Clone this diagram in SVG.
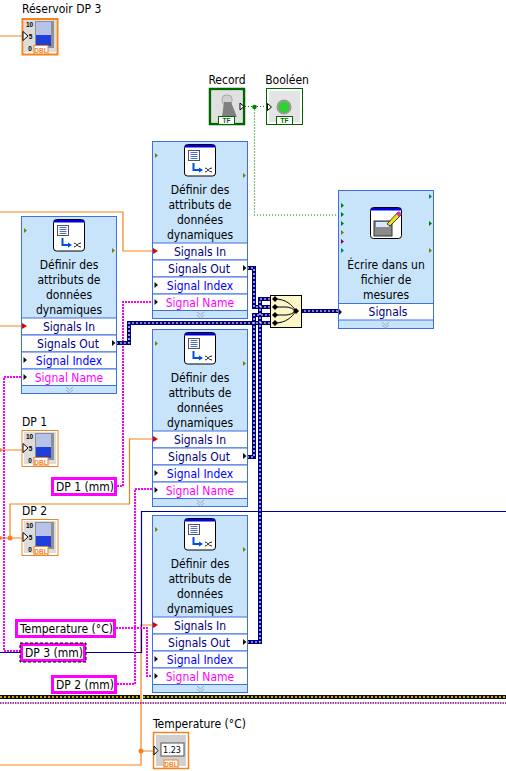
<svg xmlns="http://www.w3.org/2000/svg" width="506" height="771" viewBox="0 0 506 771">
<style>
text{font-family:"DejaVu Sans Condensed","DejaVu Sans","Liberation Sans",sans-serif;font-size:12px;fill:#000;text-anchor:middle}
.lab{text-anchor:start}
.in{fill:#000080}.out{fill:#000080}.idx{fill:#0000ff}.nam{fill:#ff00ff}
.w{fill:none}
.or{stroke:#f5821f;stroke-width:1.2}
.mg{stroke:#ff00ff;stroke-width:2;stroke-dasharray:2 1}
.bl{stroke:#0000a0;stroke-width:1.2}
.dy1{stroke:#000080;stroke-width:4}
.dy2{stroke:#fff;stroke-width:1.2;stroke-dasharray:2 2}
.gr{stroke:#008000;stroke-width:1.2;stroke-dasharray:1 2}
.lbox{fill:#fff;stroke:#ff00ff;stroke-width:3}
.tiny{font-size:6.5px;font-weight:bold;font-family:"Liberation Sans",sans-serif}
</style>
<defs>
<g id="ic">
<rect x="0.5" y="0.5" width="31" height="31.500" rx="3" fill="#fff" stroke="#000"/>
<rect x="1" y="1" width="30" height="2.500" fill="#0000e0"/>
<rect x="4.500" y="6.500" width="11" height="10" fill="#fff" stroke="#555"/>
<path d="M6.500 8.500h7M6.500 10.500h7M6.500 12.500h7M6.500 14.500h7" stroke="#4a6fd0"/>
<path d="M9.500 19v7h8" fill="none" stroke="#0050e0" stroke-width="2"/>
<path d="M15 23.500l4 2.500-4 2.500z" fill="#0050e0"/>
<path d="M21 24c3 0 3 4 7 4M21 28c3 0 3-4 7-4" fill="none" stroke="#222"/>
</g>
<g id="dyn">
<rect x="0.5" y="0.5" width="95" height="177" fill="#c8e4fb" stroke="#3d6fe8"/>
<g fill="#fff" stroke="#3d6fe8"><rect x="0.5" y="102" width="95" height="17"/><rect x="0.5" y="119" width="95" height="17"/><rect x="0.5" y="136" width="95" height="17"/><rect x="0.5" y="153" width="95" height="16.500"/></g>
<path d="M45 171l3.500 3 3.500-3M45 174l3.500 3 3.500-3" fill="none" stroke="#9aa8bb"/>
<use href="#ic" x="32" y="3"/>
<path d="M3 12v5l3-2.500z" fill="#808000"/><path d="M91 32v5l3-2.500z" fill="#808000"/>
<path d="M1 107v6l5-3z" fill="#e00000"/>
<path d="M91 124v6l3.500-3z" fill="#111"/>
<path d="M2.500 141v6l3.500-3z" fill="#111"/>
<path d="M2.500 158v6l3.500-3z" fill="#111"/>
</g>
<g id="tank">
<rect x="2" y="2" width="32" height="32" fill="#dcdcdc"/>
<rect x="13" y="3" width="19" height="27" fill="#8f8f8f"/>
<rect x="14" y="4" width="15" height="13" fill="#b6c2e8"/>
<rect x="14" y="17" width="15" height="11" fill="#1f3fdc"/>
<text x="7.500" y="9" class="tiny">10</text><text x="8.500" y="21" class="tiny">5</text><text x="8" y="33" class="tiny">0</text>
<path d="M1 13.500v9l5-4.500z" fill="#fff" stroke="#000"/>
<rect x="12" y="27.500" width="14" height="8.500" fill="#fff" stroke="#f5821f"/>
<text x="19" y="34.500" class="tiny" style="fill:#f5821f">DBL</text>
</g>
<g id="tf">
<rect x="9.500" y="28.500" width="16" height="8" fill="#fff" stroke="#006400"/>
<text x="17.500" y="35" class="tiny" style="fill:#006400">TF</text>
</g>
</defs>
<rect width="506" height="771" fill="#fff"/>

<g id="connectors">
<path class="w or" d="M0 36H22M0 212H123V251H153M0 326H21M0 450H22M0 538H22M10 538V504H129.500V439H153M0 765H141V625H153M141 751H153"/>
<circle cx="10" cy="538" r="2.500" fill="#f5821f"/><circle cx="0" cy="450" r="2" fill="#f5821f"/><circle cx="141" cy="751" r="2.500" fill="#f5821f"/><circle cx="0" cy="538" r="2" fill="#f5821f"/>
<path class="w bl" d="M0 652.500H20M86 652.500H141.500V511M141.500 511.500H506"/>
<path class="w mg" d="M21 377H4V651H20M117 486H123V302H153M117 684H135V489H153M116 628H147V676H153"/>
<path class="w gr" d="M245 106.500H266M254.500 106.500V215H338"/>
<circle cx="254.500" cy="107" r="2.300" fill="#008000"/>
<g class="w dy1"><path d="M116 343H129V323H270"/><path d="M247 268H254V307H270"/><path d="M247 457H254V315H270"/><path d="M247 642H260V299H270"/><path d="M296 311H338"/></g>
<g class="w dy2"><path d="M116 343H129V323H270"/><path d="M247 268H254V307H270"/><path d="M247 457H254V315H270"/><path d="M247 642H260V299H270"/><path d="M296 311H338"/></g>
<path d="M0 697H140M143 697H506" fill="none" stroke="#111" stroke-width="4"/>
<path d="M0 697H140M143 697H506" fill="none" stroke="#f0e000" stroke-width="1.500" stroke-dasharray="2 2"/>
<path d="M0 703H506" fill="none" stroke="#800080" stroke-width="1.500" stroke-dasharray="1.500 1"/>
</g>

<g id="reservoir"><text class="lab" x="22" y="13">Réservoir DP 3</text><rect x="22.500" y="19" width="35" height="35.500" fill="#fff" stroke="#f5821f" stroke-width="2"/><use href="#tank" x="22" y="18"/></g>

<g id="record"><text x="227" y="84">Record</text><rect x="210" y="89" width="34" height="35" fill="#fff" stroke="#006400" stroke-width="2.500"/><rect x="212" y="91" width="30" height="31" fill="#e0e0e0"/><rect x="222" y="95" width="10" height="10" rx="4" fill="#d0d0d0" stroke="#aaa"/><path d="M224 102h7l6 15h-15z" fill="#808080"/><path d="M240 103v7l4-3.500z" fill="#fff" stroke="#000"/><use href="#tf" x="209" y="88"/></g>
<g id="booleen"><text x="287" y="84">Booléen</text><rect x="266.500" y="88.500" width="36" height="36" fill="#fff" stroke="#006400"/><rect x="269" y="91" width="31" height="31" fill="#e4e4e4"/><circle cx="284" cy="107" r="6.500" fill="#2fd02f" stroke="#999" stroke-width="2"/><path d="M267.500 103.500v7l4-3.500z" fill="#fff" stroke="#000"/><use href="#tf" x="267" y="88"/></g>

<g id="nodeB" transform="translate(152 141)"><use href="#dyn"/><text x="48" y="53">Définir des</text><text x="48" y="68">attributs de</text><text x="48" y="83">données</text><text x="48" y="98">dynamiques</text><text class="in" x="48" y="115">Signals In</text><text class="out" x="47" y="132">Signals Out</text><text class="idx" x="48" y="149">Signal Index</text><text class="nam" x="48" y="166">Signal Name</text></g>

<g id="nodeA" transform="translate(21 216)"><use href="#dyn"/><text x="48" y="53">Définir des</text><text x="48" y="68">attributs de</text><text x="48" y="83">données</text><text x="48" y="98">dynamiques</text><text class="in" x="48" y="115">Signals In</text><text class="out" x="47" y="132">Signals Out</text><text class="idx" x="48" y="149">Signal Index</text><text class="nam" x="48" y="166">Signal Name</text></g>

<g id="nodeC" transform="translate(152 329)"><use href="#dyn"/><text x="48" y="53">Définir des</text><text x="48" y="68">attributs de</text><text x="48" y="83">données</text><text x="48" y="98">dynamiques</text><text class="in" x="48" y="115">Signals In</text><text class="out" x="47" y="132">Signals Out</text><text class="idx" x="48" y="149">Signal Index</text><text class="nam" x="48" y="166">Signal Name</text></g>

<g id="nodeD" transform="translate(152 515)"><use href="#dyn"/><text x="48" y="53">Définir des</text><text x="48" y="68">attributs de</text><text x="48" y="83">données</text><text x="48" y="98">dynamiques</text><text class="in" x="48" y="115">Signals In</text><text class="out" x="47" y="132">Signals Out</text><text class="idx" x="48" y="149">Signal Index</text><text class="nam" x="48" y="166">Signal Name</text></g>

<g id="merge"><rect x="270.500" y="295.500" width="31" height="32" fill="#fdf6c8" stroke="#000"/><g fill="none" stroke="#000"><path d="M275 299C286 299 292 305 296 311M275 307H286C290 307 293 309 296 311M275 315H286C290 315 293 313 296 311M275 323C286 323 292 317 296 311"/></g><g fill="#000"><path d="M275 296l3 3-3 3-3-3z"/><path d="M275 304l3 3-3 3-3-3z"/><path d="M275 312l3 3-3 3-3-3z"/><path d="M275 320l3 3-3 3-3-3z"/><path d="M296 308l3 3-3 3-3-3z"/></g></g>

<g id="nodeE"><rect x="338.500" y="190.500" width="95" height="138" fill="#c8e4fb" stroke="#3d6fe8"/><rect x="338.500" y="303.500" width="95" height="16.500" fill="#fff" stroke="#3d6fe8"/><path d="M382 322l3.500 3 3.500-3M382 325l3.500 3 3.500-3" fill="none" stroke="#9aa8bb"/>
<rect x="370.500" y="207.500" width="31" height="31" rx="3" fill="#fff" stroke="#000"/><rect x="371" y="208" width="30" height="2.500" fill="#0000e0"/><rect x="374" y="221" width="18" height="15" fill="#8a8a8a" stroke="#333"/><rect x="376" y="222" width="13" height="5" fill="#d8e8ff"/><path d="M387 224l11-12 3 3-11 11z" fill="#f0e020" stroke="#000" stroke-width=".7"/><path d="M396 214l3-3 3 3-3 3z" fill="#d040a0"/>
<path d="M341 203v5l3-2.500z" fill="#008000"/><path d="M341 212v5l3-2.500z" fill="#008000"/><path d="M341 221v5l3-2.500z" fill="#008000"/><path d="M341 230v5l3-2.500z" fill="#808000"/><path d="M341 239v5l3-2.500z" fill="#800080"/><path d="M341 248v5l3-2.500z" fill="#008080"/>
<path d="M429 194v5l3-2.500z" fill="#008080"/><path d="M429 221v5l3-2.500z" fill="#008000"/><path d="M429 248v5l3-2.500z" fill="#808000"/>
<path d="M339 309v6l3-3z" fill="#111"/>
<text x="386" y="269">Écrire dans un</text><text x="386" y="284">fichier de</text><text x="386" y="299">mesures</text><text class="out" x="388" y="316">Signals</text></g>

<g id="dp1"><text class="lab" x="22" y="426">DP 1</text><rect x="22" y="430.500" width="36" height="36" fill="#fff" stroke="#f5821f"/><use href="#tank" x="22" y="430"/></g>
<g id="dp2"><text class="lab" x="22" y="515">DP 2</text><rect x="22" y="519.500" width="36" height="36" fill="#fff" stroke="#f5821f"/><use href="#tank" x="22" y="519"/></g>

<g id="labelDp1"><rect class="lbox" x="52.500" y="478.500" width="63" height="16"/><text class="lab" x="56" y="491">DP 1 (mm)</text></g>
<g id="labelTemp"><rect class="lbox" x="16.500" y="620.500" width="98" height="16"/><text class="lab" x="20" y="633">Temperature (°C)</text></g>
<g id="labelDp3"><rect class="lbox" x="21.500" y="644.500" width="63" height="16"/><rect x="20" y="643" width="66" height="19" fill="none" stroke="#000" stroke-dasharray="3 2"/><text class="lab" x="25" y="657">DP 3 (mm)</text></g>
<g id="labelDp2"><rect class="lbox" x="52.500" y="676.500" width="63" height="16"/><text class="lab" x="56" y="689">DP 2 (mm)</text></g>

<g id="tempIndicator"><text class="lab" x="153" y="728">Temperature (°C)</text><rect x="153.500" y="732.500" width="35" height="36" fill="#fff" stroke="#f5821f" stroke-width="1.500"/><rect x="156" y="735" width="30" height="31" fill="#d0d0d0"/><rect x="161" y="743" width="23" height="13" fill="#fff" stroke="#555"/><text x="172" y="753" style="font-size:9px">1.23</text><path d="M154 746v9l4-4.500z" fill="#fff" stroke="#000"/><rect x="164" y="760" width="14" height="8" fill="#fff" stroke="#f5821f"/><text x="171" y="767" class="tiny" style="fill:#f5821f">DBL</text></g>
</svg>
